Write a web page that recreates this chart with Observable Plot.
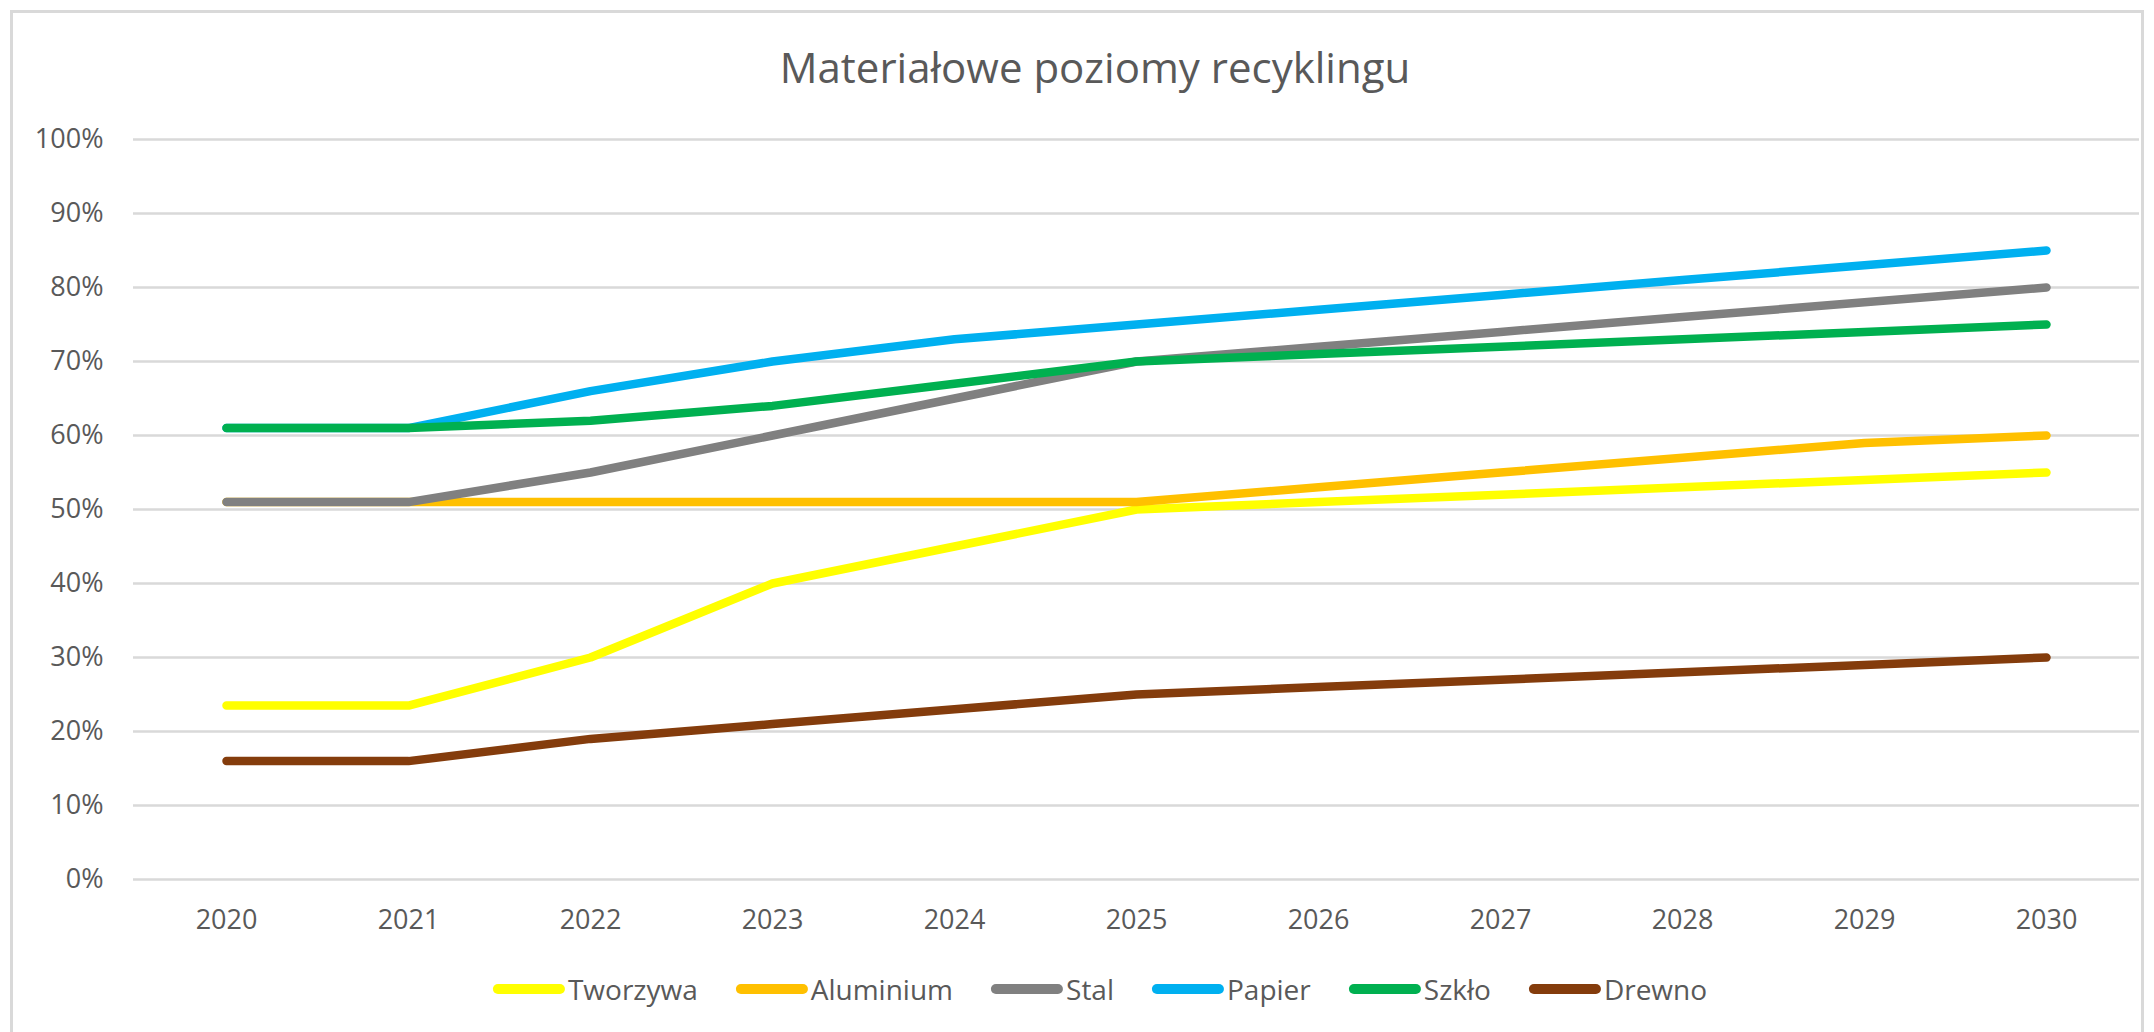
<!DOCTYPE html>
<html>
<head>
<meta charset="utf-8">
<script src="https://cdn.jsdelivr.net/npm/d3@7"></script>
<script src="https://cdn.jsdelivr.net/npm/@observablehq/plot@0.6"></script>
<style>
  html, body { margin: 0; padding: 0; background: #ffffff; overflow: hidden; }
  #wrap { position: relative; width: 2154px; height: 1032px; font-family: "Open Sans", sans-serif; color: #595959; }
  #frame { position: absolute; left: 10px; top: 10px; width: 2134px; height: 1040px; border: 3px solid #d9d9d9; box-sizing: border-box; }
  #title { position: absolute; top: 46px; left: 1095px; transform: translateX(-50%); white-space: nowrap; font-size: 42px; line-height: 42px; color: #595959; }
  #chart { position: absolute; left: 0; top: 110px; }
  #legend { position: absolute; top: 975px; left: 1100px; transform: translateX(-50%); display: flex; align-items: center; white-space: nowrap; font-size: 28px; line-height: 28px; color: #595959; }
  .item { display: flex; align-items: center; margin-right: 38px; }
  .item:last-child { margin-right: 0; }
  .sw { width: 72px; height: 10px; border-radius: 5px; margin-right: 3px; }
</style>
</head>
<body>
<div id="wrap">
  <div id="frame"></div>
  <div id="title"></div>
  <div id="chart"></div>
  <div id="legend"></div>
</div>
<script>
const titleText = "Materiałowe poziomy recyklingu";
const years = [2020, 2021, 2022, 2023, 2024, 2025, 2026, 2027, 2028, 2029, 2030];
const seriesNames = ["Tworzywa", "Aluminium", "Stal", "Papier", "Szkło", "Drewno"];
const seriesColors = ["#FFFF00", "#FFC000", "#808080", "#00B0F0", "#00B050", "#843C0C"];
const yTicks = [0, 0.1, 0.2, 0.3, 0.4, 0.5, 0.6, 0.7, 0.8, 0.9, 1.0];

const tworzywa  = [0.235, 0.235, 0.30, 0.40, 0.45, 0.50, 0.51, 0.52, 0.53, 0.54, 0.55];
const aluminium = [0.51, 0.51, 0.51, 0.51, 0.51, 0.51, 0.53, 0.55, 0.57, 0.59, 0.60];
const stal      = [0.51, 0.51, 0.55, 0.60, 0.65, 0.70, 0.72, 0.74, 0.76, 0.78, 0.80];
const papier    = [0.61, 0.61, 0.66, 0.70, 0.73, 0.75, 0.77, 0.79, 0.81, 0.83, 0.85];
const szklo     = [0.61, 0.61, 0.62, 0.64, 0.67, 0.70, 0.71, 0.72, 0.73, 0.74, 0.75];
const drewno    = [0.16, 0.16, 0.19, 0.21, 0.23, 0.25, 0.26, 0.27, 0.28, 0.29, 0.30];

const valuesBySeries = [tworzywa, aluminium, stal, papier, szklo, drewno];
const data = [];
seriesNames.forEach((s, i) => {
  years.forEach((yr, j) => data.push({ series: s, year: yr, value: valuesBySeries[i][j] }));
});

document.getElementById("title").textContent = titleText;

const chart = Plot.plot({
  width: 2154,
  height: 829,
  marginTop: 29,
  marginBottom: 60,
  marginLeft: 133,
  marginRight: 15,
  style: { fontFamily: "Open Sans, sans-serif", fontSize: "27px", color: "#595959", background: "transparent", overflow: "visible" },
  x: { type: "point", domain: years, padding: 0.5, label: null, tickSize: 0, tickPadding: 30, tickFormat: d => String(d) },
  y: { domain: [0, 1], ticks: yTicks, tickFormat: d3.format(".0%"), label: null, tickSize: 0, tickPadding: 30 },
  color: { domain: seriesNames, range: seriesColors },
  marks: [
    Plot.ruleY(yTicks, { stroke: "#d9d9d9", strokeWidth: 2.5 }),
    Plot.axisY({ ticks: yTicks, tickFormat: d3.format(".0%"), tickSize: 0, tickPadding: 30, label: null }),
    Plot.axisX({ tickSize: 0, tickPadding: 30, label: null, tickFormat: d => String(d) }),
    Plot.lineY(data, { x: "year", y: "value", z: "series", stroke: "series", strokeWidth: 8.5, strokeLinecap: "round", strokeLinejoin: "round" })
  ]
});
document.getElementById("chart").appendChild(chart);

const legend = document.getElementById("legend");
seriesNames.forEach((s, i) => {
  const item = document.createElement("div");
  item.className = "item";
  const sw = document.createElement("div");
  sw.className = "sw";
  sw.style.background = seriesColors[i];
  const lab = document.createElement("span");
  lab.textContent = s;
  item.appendChild(sw);
  item.appendChild(lab);
  legend.appendChild(item);
});
</script>
</body>
</html>
